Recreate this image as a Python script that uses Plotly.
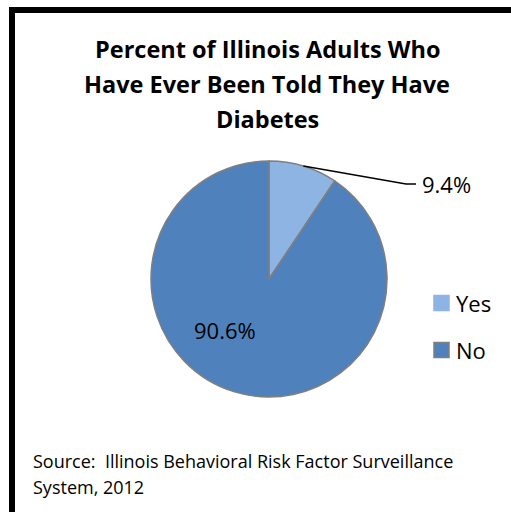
import math
import plotly.graph_objects as go

W, H = 511, 512

# ---- data ----
labels = ["Yes", "No"]
values = [9.4, 90.6]
colors = ["#8DB4E2", "#4F81BD"]
title_lines = ["Percent of Illinois Adults Who", "Have Ever Been Told They Have", "Diabetes"]
source_lines = ["Source:  Illinois Behavioral Risk Factor Surveillance", "System, 2012"]

FONT = "Open Sans"

def px(x):
    return x / W

def py(y):
    return 1 - y / H

# pie geometry (pixels)
cx, cy, r = 269, 279, 118

fig = go.Figure()
fig.add_trace(go.Pie(
    labels=labels,
    values=values,
    sort=False,
    direction="clockwise",
    rotation=0,
    marker=dict(colors=colors, line=dict(color="#7F7F7F", width=1.5)),
    textinfo="none",
    hoverinfo="label+percent",
    showlegend=False,
    domain=dict(x=[px(cx - r), px(cx + r)], y=[py(cy + r), py(cy - r)]),
))

annotations = []
shapes = []

# border
shapes.append(dict(type="rect", xref="paper", yref="paper",
                   x0=px(12), x1=px(W + 20), y0=py(H + 20), y1=py(10),
                   line=dict(color="black", width=6), fillcolor="rgba(0,0,0,0)"))

# title lines
for i, t in enumerate(title_lines):
    annotations.append(dict(text="<b>%s</b>" % t, x=px(267), y=py(49 + 35 * i),
                            xref="paper", yref="paper", showarrow=False,
                            xanchor="center", yanchor="middle",
                            font=dict(family=FONT, size=23.5, color="black")))

# source lines
for i, t in enumerate(source_lines):
    annotations.append(dict(text=t, x=px(31), y=py(461 + 26 * i),
                            xref="paper", yref="paper", showarrow=False,
                            xanchor="left", yanchor="middle",
                            font=dict(family=FONT, size=18, color="black")))

# data labels
total = sum(values)
pcts = [v / total * 100 for v in values]
# Yes: outside label with leader line from slice mid-angle
mid = pcts[0] / 2 / 100 * 2 * math.pi
sx, sy = cx + r * math.sin(mid), cy - r * math.cos(mid)
shapes.append(dict(type="path", xref="paper", yref="paper",
                   path="M %f %f L %f %f L %f %f" % (px(sx), py(sy), px(406), py(184), px(416), py(184)),
                   line=dict(color="black", width=1.5)))
annotations.append(dict(text="%.1f%%" % pcts[0], x=px(420), y=py(184),
                        xref="paper", yref="paper", showarrow=False,
                        xanchor="left", yanchor="middle",
                        font=dict(family=FONT, size=22, color="black")))
annotations.append(dict(text="%.1f%%" % pcts[1], x=px(225), y=py(330),
                        xref="paper", yref="paper", showarrow=False,
                        xanchor="center", yanchor="middle",
                        font=dict(family=FONT, size=22, color="black")))

# legend (manual)
leg_y = [303, 350]
for lab, col, ly in zip(labels, colors, leg_y):
    shapes.append(dict(type="rect", xref="paper", yref="paper",
                       x0=px(434), x1=px(449), y0=py(ly + 7.5), y1=py(ly - 7.5),
                       fillcolor=col,
                       line=dict(color="#7F7F7F" if lab == "No" else col, width=1.5)))
    annotations.append(dict(text=lab, x=px(454), y=py(ly),
                            xref="paper", yref="paper", showarrow=False,
                            xanchor="left", yanchor="middle",
                            font=dict(family=FONT, size=22, color="black")))

fig.update_layout(
    width=W, height=H,
    margin=dict(l=0, r=0, t=0, b=0),
    paper_bgcolor="white", plot_bgcolor="white",
    annotations=annotations, shapes=shapes,
    showlegend=False,
)

fig.write_html("out.html")
